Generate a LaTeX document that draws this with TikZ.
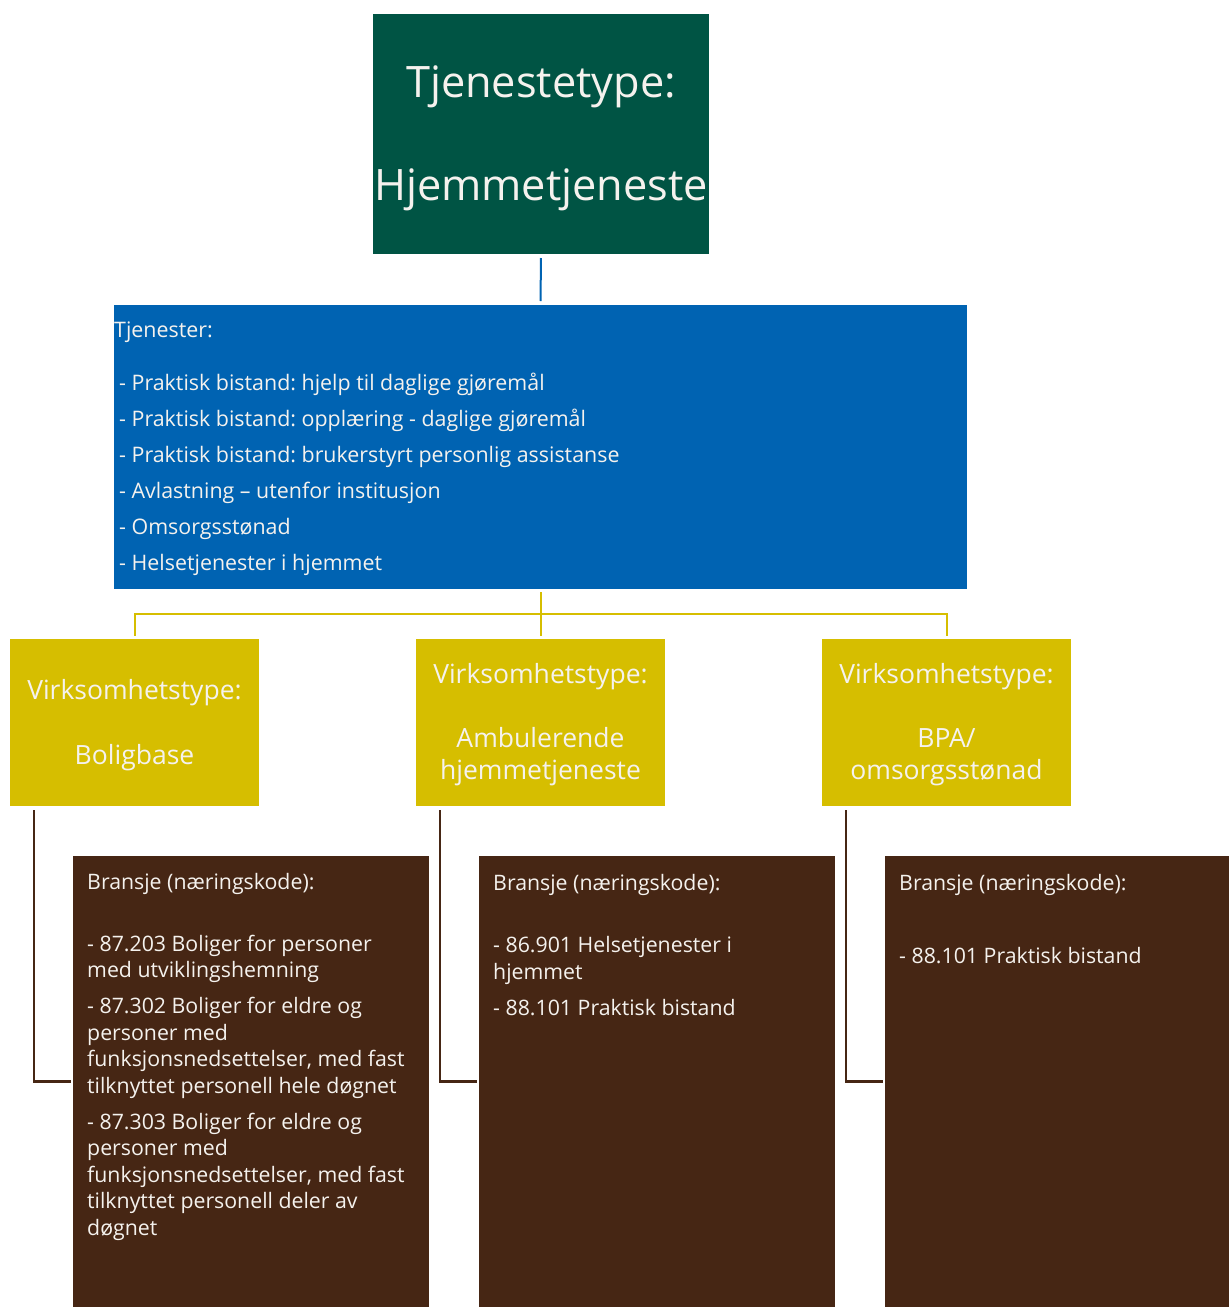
\documentclass[tikz,border=0pt]{standalone}
\usepackage{fontspec}
\setmainfont{Open Sans}
\frenchspacing
\definecolor{tgreen}{RGB}{0,84,68}
\definecolor{tblue}{RGB}{0,99,178}
\definecolor{tyellow}{RGB}{214,190,0}
\definecolor{tbrown}{RGB}{70,38,20}
\definecolor{ttext}{RGB}{245,242,238}
\begin{document}
\begin{tikzpicture}[x=1pt,y=-1pt,
  box/.style={draw=none,inner sep=0pt,outer sep=0pt},
  greenbox/.style={box,fill=tgreen,minimum width=336pt,minimum height=240pt},
  bluebox/.style={box,fill=tblue,minimum width=853pt,minimum height=284pt},
  yelbox/.style={box,fill=tyellow,minimum width=249pt,minimum height=167pt},
  brbox/.style={box,fill=tbrown,minimum width=356pt,minimum height=451pt},
  txt/.style={inner sep=0pt,text=ttext},
  ytxt/.style={txt,align=center,font=\fontsize{26.5}{32}\selectfont},
  btxt/.style={txt,align=left,anchor=west,font=\fontsize{21.3}{26.5}\selectfont},
  bluecon/.style={draw=tblue,line width=2pt},
  yelcon/.style={draw=tyellow,line width=2pt},
  brcon/.style={draw=tbrown,line width=2.5pt}
]
\useasboundingbox (0,0) rectangle (1229,1307);

% boxes
\node[greenbox] (title) at (541,134) {};
\node[bluebox] (svc) at (540.5,447) {};
\node[yelbox] (vt1) at (134.5,722.5) {};
\node[yelbox] (vt2) at (540.5,722.5) {};
\node[yelbox] (vt3) at (946.5,722.5) {};
\node[brbox] (br1) at (251,1081.5) {};
\node[brbox] (br2) at (657,1081.5) {};
\node[brbox,minimum width=344pt] (br3) at (1057,1081.5) {};

% texts
\node[txt,align=center,font=\fontsize{43.3}{103}\selectfont] (titletxt) at (541,138)
  {Tjenestetype:\\Hjemmetjeneste};
\node[txt,align=left,anchor=west,font=\fontsize{21.4}{36}\selectfont] (svctxt) at (114,449)
  {Tjenester:\\[17pt]
   \hspace{5pt}- Praktisk bistand: hjelp til daglige gjøremål\\
   \hspace{5pt}- Praktisk bistand: opplæring - daglige gjøremål\\
   \hspace{5pt}- Praktisk bistand: brukerstyrt personlig assistanse\\
   \hspace{5pt}- Avlastning – utenfor institusjon\\
   \hspace{5pt}- Omsorgsstønad\\
   \hspace{5pt}- Helsetjenester i hjemmet};
\node[ytxt] (vt1txt) at ([yshift=-3pt]vt1.center) {Virksomhetstype:\\[33pt]Boligbase};
\node[ytxt] (vt2txt) at ([yshift=-2pt]vt2.center) {Virksomhetstype:\\[32pt]Ambulerende\\hjemmetjeneste};
\node[ytxt] (vt3txt) at ([yshift=-2pt]vt3.center) {Virksomhetstype:\\[32pt]BPA/\\omsorgsstønad};

\node[btxt] (br1txt) at (87,1056.5)
  {Bransje (næringskode):\\[35.5pt]
   - 87.203 Boliger for personer\\
   med utviklingshemning\\[9.5pt]
   - 87.302 Boliger for eldre og\\
   personer med\\
   funksjonsnedsettelser, med fast\\
   tilknyttet personell hele døgnet\\[9.5pt]
   - 87.303 Boliger for eldre og\\
   personer med\\
   funksjonsnedsettelser, med fast\\
   tilknyttet personell deler av\\
   døgnet};
\node[btxt] (br2txt) at (493,945)
  {Bransje (næringskode):\\[35.5pt]
   - 86.901 Helsetjenester i\\
   hjemmet\\[9.5pt]
   - 88.101 Praktisk bistand};
\node[btxt] (br3txt) at (899,919.5)
  {Bransje (næringskode):\\[46.5pt]
   - 88.101 Praktisk bistand};

% connectors
\draw[bluecon,shorten <=4pt,shorten >=4pt] (title.south) -- (svc.north);
\coordinate (bus) at (540.5,614);
\draw[yelcon] ([yshift=-3pt]svc.south) -- (bus);
\draw[yelcon] (bus) -| ([yshift=3pt]vt1.north);
\draw[yelcon] (bus) -| ([yshift=3pt]vt3.north);
\draw[yelcon] (bus) -- ([yshift=3pt]vt2.north);
\draw[brcon] ([xshift=24pt,yshift=-4pt]vt1.south west) |- ([xshift=-2pt]br1.west);
\draw[brcon] ([xshift=24pt,yshift=-4pt]vt2.south west) |- ([xshift=-2pt]br2.west);
\draw[brcon] ([xshift=24pt,yshift=-4pt]vt3.south west) |- ([xshift=-2pt]br3.west);
\end{tikzpicture}
\end{document}
